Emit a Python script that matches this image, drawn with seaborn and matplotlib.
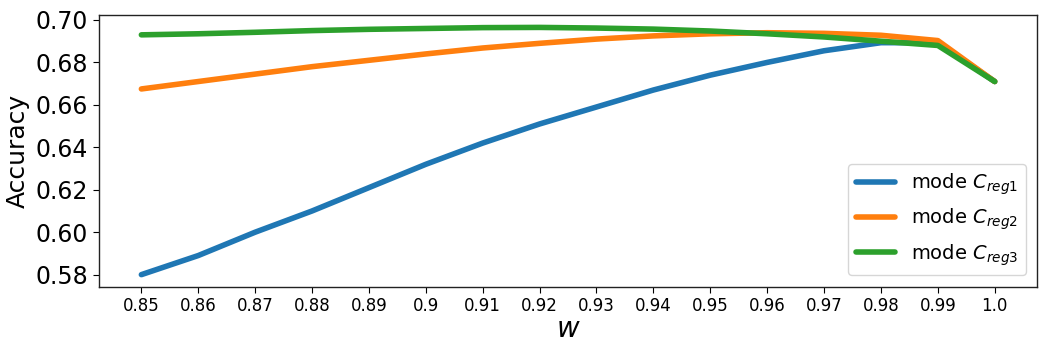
import matplotlib
matplotlib.use("Agg")
import matplotlib.pyplot as plt
import seaborn as sns
import pandas as pd
import numpy as np

w_labels = ["0.85", "0.86", "0.87", "0.88", "0.89", "0.9", "0.91", "0.92",
            "0.93", "0.94", "0.95", "0.96", "0.97", "0.98", "0.99", "1.0"]
reg1 = [0.580, 0.589, 0.600, 0.610, 0.621, 0.632, 0.642, 0.651,
        0.659, 0.667, 0.674, 0.680, 0.6855, 0.6893, 0.6893, 0.671]
reg2 = [0.6675, 0.671, 0.6745, 0.678, 0.681, 0.684, 0.6868, 0.689,
        0.691, 0.6925, 0.6935, 0.694, 0.6937, 0.6928, 0.6903, 0.671]
reg3 = [0.693, 0.6935, 0.6942, 0.695, 0.6956, 0.696, 0.6964, 0.6965,
        0.6962, 0.6957, 0.6948, 0.6935, 0.692, 0.690, 0.688, 0.671]
series_names = [r"mode $C_{reg1}$", r"mode $C_{reg2}$", r"mode $C_{reg3}$"]

sns.set_style("white")
plt.rcParams['font.family'] = ['DejaVu Sans']
for k in ["text.color", "axes.labelcolor", "xtick.color", "ytick.color"]:
    plt.rcParams[k] = "black"

rows = []
for name, vals in zip(series_names, [reg1, reg2, reg3]):
    for i, v in enumerate(vals):
        rows.append({"idx": i, "acc": v, "series": name})
df = pd.DataFrame(rows)

fig, ax = plt.subplots(figsize=(10.5, 3.5), dpi=100)
sns.lineplot(data=df, x="idx", y="acc", hue="series",
             palette=["#1f77b4", "#ff7f0e", "#2ca02c"], linewidth=4, ax=ax)

ax.set_xticks(range(len(w_labels)))
ax.set_xticklabels(w_labels, fontsize=12)
ax.tick_params(axis="y", labelsize=17)
ax.tick_params(axis="both", which="major", length=4, width=0.8, direction="out", bottom=True, left=True)
ax.set_yticks([0.58, 0.60, 0.62, 0.64, 0.66, 0.68, 0.70])
ax.set_xlabel(r"$w$", fontsize=20, labelpad=0)
ax.set_ylabel("Accuracy", fontsize=18, labelpad=4)
for s in ax.spines.values():
    s.set_color("#222222")
    s.set_linewidth(1)
ax.legend(loc="lower right", fontsize=14, title=None, handlelength=2.0,
          borderaxespad=0.6)

fig.subplots_adjust(left=0.094, right=0.988, top=0.957, bottom=0.18)
fig.savefig("out.png", dpi=100)
